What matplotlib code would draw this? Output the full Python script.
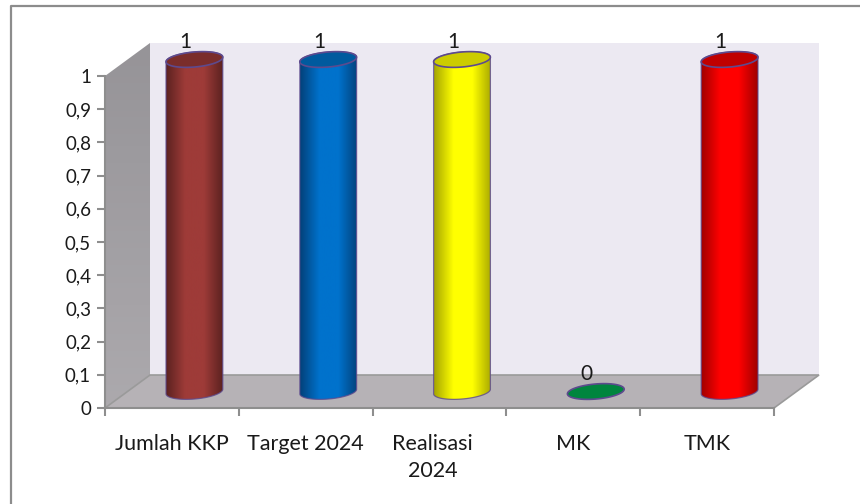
"""Cylinder chart of KKP counts, 3D look drawn on a plain matplotlib axes."""
import matplotlib
matplotlib.use("Agg")
import matplotlib.pyplot as plt
import numpy as np
from matplotlib.colors import LinearSegmentedColormap
from matplotlib.lines import Line2D
from matplotlib.patches import Polygon
from matplotlib.transforms import ScaledTranslation

categories = ["Jumlah KKP", "Target 2024", "Realisasi\n2024", "MK", "TMK"]
values = [1, 1, 1, 0, 1]
y_ticks = [0, 0.1, 0.2, 0.3, 0.4, 0.5, 0.6, 0.7, 0.8, 0.9, 1]
y_tick_labels = ["0", "0,1", "0,2", "0,3", "0,4", "0,5", "0,6", "0,7", "0,8", "0,9", "1"]

body_edges = ["#5c2220", "#03417a", "#a6a600", "#00562a", "#a00000"]
body_mids = ["#9e3b38", "#0072cc", "#ffff00", "#009a48", "#ff0000"]
top_colors = ["#7a2d2b", "#005a9e", "#cccc00", "#00853e", "#c00000"]

FIG_W, FIG_H = 860, 504
LEFT, RIGHT, BOTTOM, TOP = 105, 774, 408, 76
PX_X = (RIGHT - LEFT) / len(categories)
PX_Y = BOTTOM - TOP
DEPTH_X = 45 / PX_X
DEPTH_Y = 33 / PX_Y
SEMI_A, SEMI_B, TILT = 28.5, 7.5, np.radians(5)
OUTLINE = "#5d4a8e"
TEXT = "#1a1a1a"

plt.rcParams["font.family"] = ["Lato", "DejaVu Sans"]


def ellipse_points(cx, cy, start, stop):
    t = np.linspace(start, stop, 60)
    px = SEMI_A * np.cos(t) * np.cos(TILT) - SEMI_B * np.sin(t) * np.sin(TILT)
    py = SEMI_A * np.cos(t) * np.sin(TILT) + SEMI_B * np.sin(t) * np.cos(TILT)
    return np.column_stack([cx + px / PX_X, cy + py / PX_Y])


def draw_cylinder(ax, x, value, edge, mid, top):
    base_y = DEPTH_Y / 2
    top_y = value + DEPTH_Y / 2
    half = SEMI_A / PX_X

    if value > 0:
        outline = np.vstack([
            ellipse_points(x, base_y, np.pi, 2 * np.pi),
            ellipse_points(x, top_y, 0, np.pi),
        ])
        body = Polygon(outline, closed=True, facecolor="none", edgecolor=OUTLINE,
                       linewidth=0.9, alpha=0.8, zorder=4, clip_on=False)
        ax.add_patch(body)
        cmap = LinearSegmentedColormap.from_list("body", [edge, mid, mid, edge])
        shade = np.linspace(0, 1, 128).reshape(1, -1)
        image = ax.imshow(shade, cmap=cmap, aspect="auto", zorder=3,
                          extent=(x - half, x + half, base_y - 0.05, top_y + 0.05))
        image.set_clip_box(fig.bbox)
        image.set_clip_path(Polygon(outline, closed=True, transform=ax.transData))

    cap = Polygon(ellipse_points(x, top_y, 0, 2 * np.pi), closed=True, facecolor=top,
                  edgecolor=OUTLINE, linewidth=1.2, zorder=5, clip_on=False)
    ax.add_patch(cap)

    ax.annotate(str(value), xy=(x, top_y), xytext=(-6.5, 12.5), textcoords="offset points",
                ha="center", va="center", fontsize=15, color=TEXT, zorder=6,
                annotation_clip=False)


fig = plt.figure(figsize=(FIG_W / 100, FIG_H / 100), dpi=100, facecolor="white")
ax = fig.add_axes([LEFT / FIG_W, 1 - BOTTOM / FIG_H, (RIGHT - LEFT) / FIG_W, PX_Y / FIG_H])

n = len(categories)
back_wall = [(DEPTH_X, DEPTH_Y), (n + DEPTH_X, DEPTH_Y), (n + DEPTH_X, 1 + DEPTH_Y), (DEPTH_X, 1 + DEPTH_Y)]
side_wall = [(0, 0), (DEPTH_X, DEPTH_Y), (DEPTH_X, 1 + DEPTH_Y), (0, 1)]
floor = [(0, 0), (n, 0), (n + DEPTH_X, DEPTH_Y), (DEPTH_X, DEPTH_Y)]
ax.add_patch(Polygon(back_wall, facecolor="#ece9f2", edgecolor="none", clip_on=False, zorder=1))
wall_cmap = LinearSegmentedColormap.from_list("wall", ["#aca9ad", "#969498"])
wall = ax.imshow(np.linspace(0, 1, 64).reshape(-1, 1), cmap=wall_cmap, aspect="auto", origin="lower",
                 zorder=1, extent=(0, DEPTH_X, 0, 1 + DEPTH_Y))
wall.set_clip_box(fig.bbox)
wall.set_clip_path(Polygon(side_wall, closed=True, transform=ax.transData))
ax.add_patch(Polygon(floor, facecolor="#b6b2b6", edgecolor="#9a9a9a", linewidth=1.2,
                     clip_on=False, zorder=2))

for i, value in enumerate(values):
    draw_cylinder(ax, i + 0.5 + DEPTH_X / 2, value, body_edges[i], body_mids[i], top_colors[i])

ax.set_xlim(0, n)
ax.set_ylim(0, 1)
ax.patch.set_visible(False)
for side in ("top", "right"):
    ax.spines[side].set_visible(False)
for side in ("left", "bottom"):
    ax.spines[side].set_color("#8e8e8e")
    ax.spines[side].set_linewidth(1.5)

ax.set_yticks(y_ticks)
ax.set_yticklabels(y_tick_labels, fontsize=13.5, color=TEXT)
ax.set_xticks(np.arange(n + 1))
ax.set_xticklabels([])
ax.set_xticks(np.arange(n) + 0.5, minor=True)
labels = ax.set_xticklabels(categories, minor=True, fontsize=15.5, color=TEXT, linespacing=1.4)
ax.tick_params(axis="x", which="major", length=6, width=1.5, color="#8e8e8e")
ax.tick_params(axis="x", which="minor", length=0, pad=19)
ax.tick_params(axis="y", length=6, width=1.5, color="#8e8e8e", pad=4)

# the Realisasi label sits a little left of its slot in the source
labels[2].set_transform(labels[2].get_transform() + ScaledTranslation(-7 / 100, 0, fig.dpi_scale_trans))

# outer frame only has its top and left edges in the source picture
fig.add_artist(Line2D([10.5 / FIG_W, 10.5 / FIG_W, 1], [0, 1 - 6 / FIG_H, 1 - 6 / FIG_H],
                      color="#8c8c8c", linewidth=1.6))

fig.savefig("out.png", dpi=100)
